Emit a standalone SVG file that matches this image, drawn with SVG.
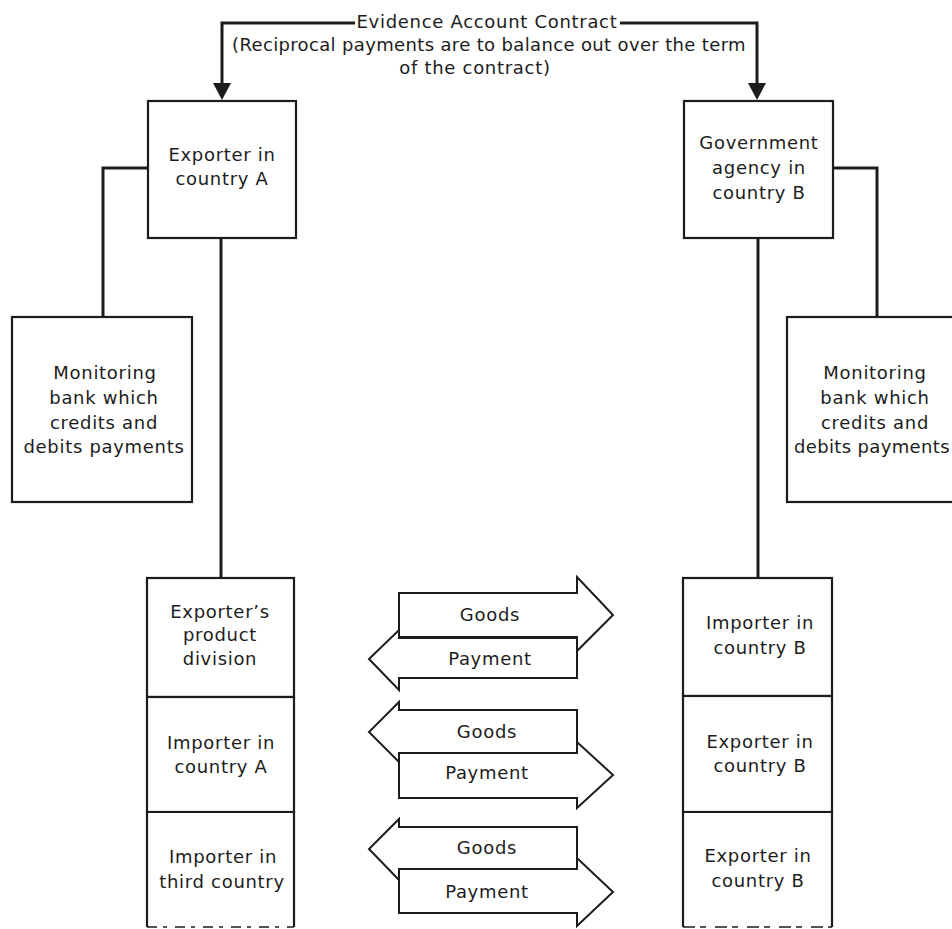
<svg xmlns="http://www.w3.org/2000/svg" width="952" height="929" viewBox="0 0 952 929">
  <defs>
    <style>
      .box { fill: #fff; stroke: #1c1c1c; stroke-width: 2.2; }
      .conn { fill: none; stroke: #1c1c1c; stroke-width: 3; }
      .flow { fill: #fff; stroke: #1c1c1c; stroke-width: 2; stroke-linejoin: miter; }
      .head { fill: #1c1c1c; }
      .tight { letter-spacing: 0.35px; }
      text { font-family: "DejaVu Sans", "Liberation Sans", sans-serif; font-size: 18px; letter-spacing: 0.7px; fill: #1c1c1c; text-anchor: middle; }
    </style>
  </defs>
  <rect width="952" height="929" fill="#fff"/>

  <!-- contract label -->
  <g id="contract">
    <text x="487" y="28">Evidence Account Contract</text>
    <text class="tight" x="489" y="51">(Reciprocal payments are to balance out over the term</text>
    <text x="475" y="74">of the contract)</text>
  </g>

  <!-- connectors -->
  <g id="connectors">
    <path class="conn" d="M355,23 H222 V84"/>
    <polygon class="head" points="213,83 231,83 222,100"/>
    <path class="conn" d="M620,23 H757 V84"/>
    <polygon class="head" points="748,83 766,83 757,100"/>
    <path class="conn" d="M148,168 H103 V317"/>
    <path class="conn" d="M221,238 V578"/>
    <path class="conn" d="M833,168 H877 V317"/>
    <path class="conn" d="M758,238 V578"/>
  </g>

  <g id="exporter-a">
    <rect class="box" x="148" y="101" width="148" height="137"/>
    <text x="222" y="161">Exporter in</text>
    <text x="222" y="185">country A</text>
  </g>

  <g id="agency-b">
    <rect class="box" x="684" y="101" width="149" height="137"/>
    <text x="759" y="149">Government</text>
    <text x="759" y="174">agency in</text>
    <text x="759" y="199">country B</text>
  </g>

  <g id="bank-a">
    <rect class="box" x="12" y="317" width="180" height="185"/>
    <text x="105" y="379">Monitoring</text>
    <text x="104" y="404">bank which</text>
    <text x="104" y="429">credits and</text>
    <text x="104" y="453">debits payments</text>
  </g>

  <g id="bank-b">
    <rect class="box" x="787" y="317" width="180" height="185"/>
    <text x="875" y="379">Monitoring</text>
    <text x="875" y="404">bank which</text>
    <text x="875" y="429">credits and</text>
    <text class="tight" x="872" y="453">debits payments</text>
  </g>

  <!-- left stack -->
  <g id="product-division">
    <rect class="box" x="147" y="578" width="147" height="119"/>
    <text x="220" y="618">Exporter’s</text>
    <text x="220" y="641">product</text>
    <text x="220" y="665">division</text>
  </g>
  <g id="importer-a">
    <rect class="box" x="147" y="697" width="147" height="115"/>
    <text x="221" y="749">Importer in</text>
    <text x="221" y="773">country A</text>
  </g>
  <g id="importer-third">
    <path class="box" d="M147,812 H294 V927 M147,812 V927"/>
    <path d="M147,927 H294" stroke="#1c1c1c" stroke-width="1.5" stroke-dasharray="10 6 4 8"/>
    <text x="223" y="863">Importer in</text>
    <text x="222" y="888">third country</text>
  </g>

  <!-- right stack -->
  <g id="importer-b">
    <rect class="box" x="683" y="578" width="149" height="118"/>
    <text x="760" y="629">Importer in</text>
    <text x="760" y="654">country B</text>
  </g>
  <g id="exporter-b-1">
    <rect class="box" x="683" y="696" width="149" height="116"/>
    <text x="760" y="748">Exporter in</text>
    <text x="760" y="772">country B</text>
  </g>
  <g id="exporter-b-2">
    <path class="box" d="M683,812 H832 V927 M683,812 V927"/>
    <path d="M683,927 H832" stroke="#1c1c1c" stroke-width="1.5" stroke-dasharray="12 5 6 9"/>
    <text x="758" y="862">Exporter in</text>
    <text x="758" y="887">country B</text>
  </g>

  <!-- goods / payment flows -->
  <g id="flow-1">
    <polygon class="flow" points="399,593 577,593 577,577 613,615 577,651 577,637 399,637"/>
    <polygon class="flow" points="577,638 577,678 399,678 399,690 369,659 399,630 399,638"/>
    <text x="490" y="621">Goods</text>
    <text x="490" y="665">Payment</text>
  </g>
  <g id="flow-2">
    <polygon class="flow" points="577,710 577,753 399,753 399,762 369,732 399,702 399,710"/>
    <polygon class="flow" points="399,753 577,753 577,742 613,775 577,808 577,798 399,798"/>
    <text x="487" y="738">Goods</text>
    <text x="487" y="779">Payment</text>
  </g>
  <g id="flow-3">
    <polygon class="flow" points="577,827 577,869 399,869 399,880 369,849 399,819 399,827"/>
    <polygon class="flow" points="399,869 577,869 577,858 613,892 577,926 577,913 399,913"/>
    <text x="487" y="854">Goods</text>
    <text x="487" y="898">Payment</text>
  </g>
</svg>
